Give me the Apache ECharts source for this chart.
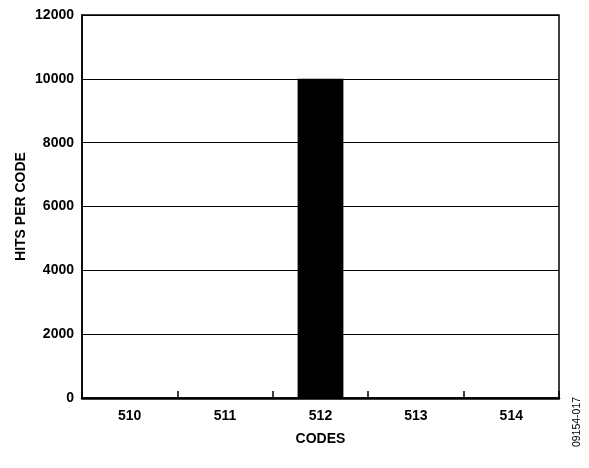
<!DOCTYPE html>
<html><head><meta charset="utf-8">
<script src="https://cdn.jsdelivr.net/npm/echarts@6/dist/echarts.min.js"></script>
<style>html,body{margin:0;padding:0;background:#fff}#c{width:589px;height:468px}</style>
</head><body><div id="c"></div>
<script>
const categories = ['510', '511', '512', '513', '514'];
const hits = [0, 0, 10000, 0, 0];
const yTicks = [0, 2000, 4000, 6000, 8000, 10000, 12000];

const chart = echarts.init(document.getElementById('c'), null, {renderer: 'canvas'});
const font = 'Liberation Sans, Arial, Helvetica, sans-serif';
const fs = 14;
chart.setOption({
  animation: false,
  backgroundColor: '#fff',
  grid: {left: 82, right: 30, top: 15, bottom: 70, outerBoundsMode: 'none', containLabel: false,
         show: true, borderColor: '#000', borderWidth: 1.5, backgroundColor: 'transparent'},
  xAxis: {
    type: 'category', data: categories,
    name: 'CODES', nameLocation: 'middle', nameGap: 34,
    nameTextStyle: {fontFamily: font, fontWeight: 'bold', fontSize: fs, color: '#000'},
    axisLine: {lineStyle: {color: '#000', width: 2.5}},
    axisTick: {show: true, inside: true, length: 7, alignWithLabel: false, lineStyle: {color: '#000', width: 1.5}},
    axisLabel: {fontFamily: font, fontWeight: 'bold', fontSize: fs, color: '#000', margin: 11}
  },
  yAxis: {
    type: 'value', min: yTicks[0], max: yTicks[yTicks.length - 1], interval: 2000,
    name: 'HITS PER CODE', nameLocation: 'middle', nameGap: 54, nameRotate: 90, nameMoveOverlap: false,
    nameTextStyle: {fontFamily: font, fontWeight: 'bold', fontSize: fs, color: '#000'},
    axisLine: {show: true, lineStyle: {color: '#000', width: 1.5}},
    axisTick: {show: false},
    splitLine: {lineStyle: {color: '#000', width: 1}},
    axisLabel: {fontFamily: font, fontWeight: 'bold', fontSize: fs, color: '#000', margin: 8,
                formatter: v => String(v)}
  },
  series: [{
    type: 'bar', data: hits, barWidth: '48%',
    itemStyle: {color: '#000'}
  }],
  graphic: [{
    type: 'text', x: 577, y: 422, rotation: Math.PI / 2,
    style: {text: '09154-017', fontFamily: font, fontSize: 10.5, fill: '#000', align: 'center', verticalAlign: 'middle'}
  }]
});
</script></body></html>
